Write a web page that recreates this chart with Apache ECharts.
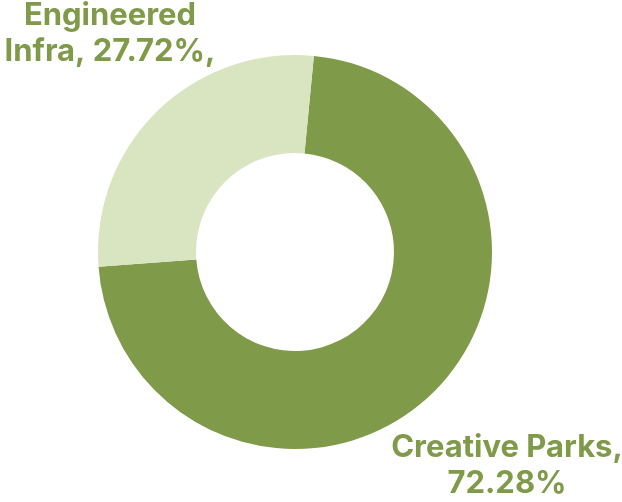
<!DOCTYPE html>
<html>
<head>
<meta charset="utf-8">
<script src="https://cdn.jsdelivr.net/npm/echarts@6/dist/echarts.min.js"></script>
<style>
  html, body { margin: 0; padding: 0; background: #ffffff; }
  #chart { width: 622px; height: 502px; }
</style>
</head>
<body>
<div id="chart"></div>
<script>
// Share of project types
const categories = ['Creative Parks', 'Engineered Infra'];
const shares = [72.28, 27.72];
const labelTexts = ['Creative Parks,\n72.28%', 'Engineered\nInfra, 27.72%,'];

const sliceColors = ['#7f9a48', '#d9e4c1'];
const labelSpots = [[507, 466], [110, 34]];

const chart = echarts.init(document.getElementById('chart'), null, { renderer: 'canvas' });

chart.setOption({
  animation: false,
  series: [{
    type: 'pie',
    center: [295, 252],
    radius: [99, 197],
    startAngle: 84.5,
    clockwise: true,
    avoidLabelOverlap: false,
    data: categories.map((name, i) => ({
      name: name,
      value: shares[i],
      itemStyle: { color: sliceColors[i] }
    })),
    label: {
      show: true,
      position: 'outside',
      formatter: p => labelTexts[p.dataIndex],
      color: '#7f9a48',
      fontFamily: 'Inter',
      fontWeight: 'bold',
      fontSize: 31,
      lineHeight: 36,
      align: 'center'
    },
    labelLine: { show: false },
    labelLayout: p => ({
      x: labelSpots[p.dataIndex][0],
      y: labelSpots[p.dataIndex][1],
      align: 'center',
      verticalAlign: 'middle'
    }),
    emphasis: { disabled: true }
  }]
});
</script>
</body>
</html>
